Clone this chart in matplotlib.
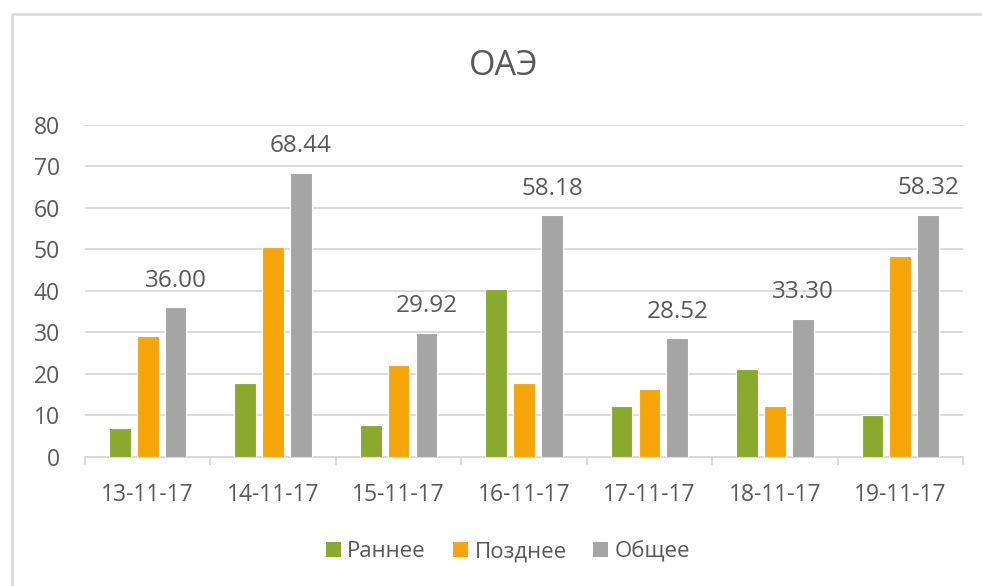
import matplotlib
matplotlib.use('Agg')
import matplotlib.pyplot as plt
import numpy as np
from matplotlib.patches import Patch
from matplotlib.lines import Line2D

# data
dates = ['13-11-17', '14-11-17', '15-11-17', '16-11-17', '17-11-17', '18-11-17', '19-11-17']
early = [7.0, 17.9, 7.8, 40.4, 12.2, 21.1, 10.0]
late = [29.0, 50.5, 22.1, 17.8, 16.3, 12.2, 48.3]
total = [36.00, 68.44, 29.92, 58.18, 28.52, 33.30, 58.32]
series_names = ['Раннее', 'Позднее', 'Общее']
y_ticks = [0, 10, 20, 30, 40, 50, 60, 70, 80]

colors = ['#8AAA2E', '#F6A50B', '#A5A5A5']
text_color = '#595959'
grid_color = '#D9D9D9'

plt.rcParams['font.family'] = ['Open Sans', 'DejaVu Sans']

fig = plt.figure(figsize=(9.82, 5.86), dpi=100)
ax = fig.add_axes([85 / 982, 1 - 457 / 586, (963 - 85) / 982, (457 - 124.5) / 586])

x = np.arange(len(dates))
step = 0.2225
width = 0.173
for i, (vals, name) in enumerate(zip([early, late, total], series_names)):
    bars = ax.bar(x + (i - 1) * step, vals, width, color=colors[i], edgecolor='white',
                  linewidth=0.8, label=name, zorder=3)
    if i == 2:
        # labels only on the total series
        for b, v in zip(bars, vals):
            ax.annotate(f'{v:.2f}', (b.get_x() + b.get_width() / 2, b.get_height()),
                        xytext=(0, 14.8), textcoords='offset points', ha='center',
                        va='baseline', fontsize=17.5, color=text_color)

ax.set_xlim(-0.5, len(dates) - 0.5)
ax.set_ylim(0, 80)
ax.set_yticks(y_ticks)
ax.set_xticks(x)
ax.set_xticklabels(dates)
ax.set_xticks(np.arange(len(dates) + 1) - 0.5, minor=True)

ax.yaxis.grid(True, color=grid_color, linewidth=1.3, zorder=0)
ax.set_axisbelow(True)
for s in ['left', 'right', 'top']:
    ax.spines[s].set_visible(False)
ax.spines['bottom'].set_color(grid_color)
ax.spines['bottom'].set_linewidth(1.3)

ax.tick_params(axis='y', length=0, pad=18, labelsize=16.5, labelcolor=text_color)
ax.tick_params(axis='x', which='major', length=0, pad=19, labelsize=16.5, labelcolor=text_color)
ax.tick_params(axis='x', which='minor', length=5.8, width=1.3, color=grid_color)

# title
fig.text(503.5 / 982, 1 - 75 / 586, 'ОАЭ', ha='center', va='baseline',
         fontsize=24.5, color=text_color)

# legend under the plot
handles = [Patch(facecolor=c, edgecolor='none') for c in colors]
leg = fig.legend(handles, series_names, loc='center', bbox_to_anchor=(508 / 982, 1 - 551.5 / 586),
                 ncol=3, frameon=False, fontsize=16, handlelength=0.68, handleheight=0.68,
                 handletextpad=0.3, columnspacing=1.2, labelcolor=text_color)

# chart border (cut at the right and bottom in the screenshot)
bx = 12 / 982
by = 1 - 14 / 586
fig.add_artist(Line2D([bx, bx, 1.0], [0, by, by], transform=fig.transFigure,
                      color=grid_color, linewidth=1.8))

fig.savefig('out.png', dpi=100)
